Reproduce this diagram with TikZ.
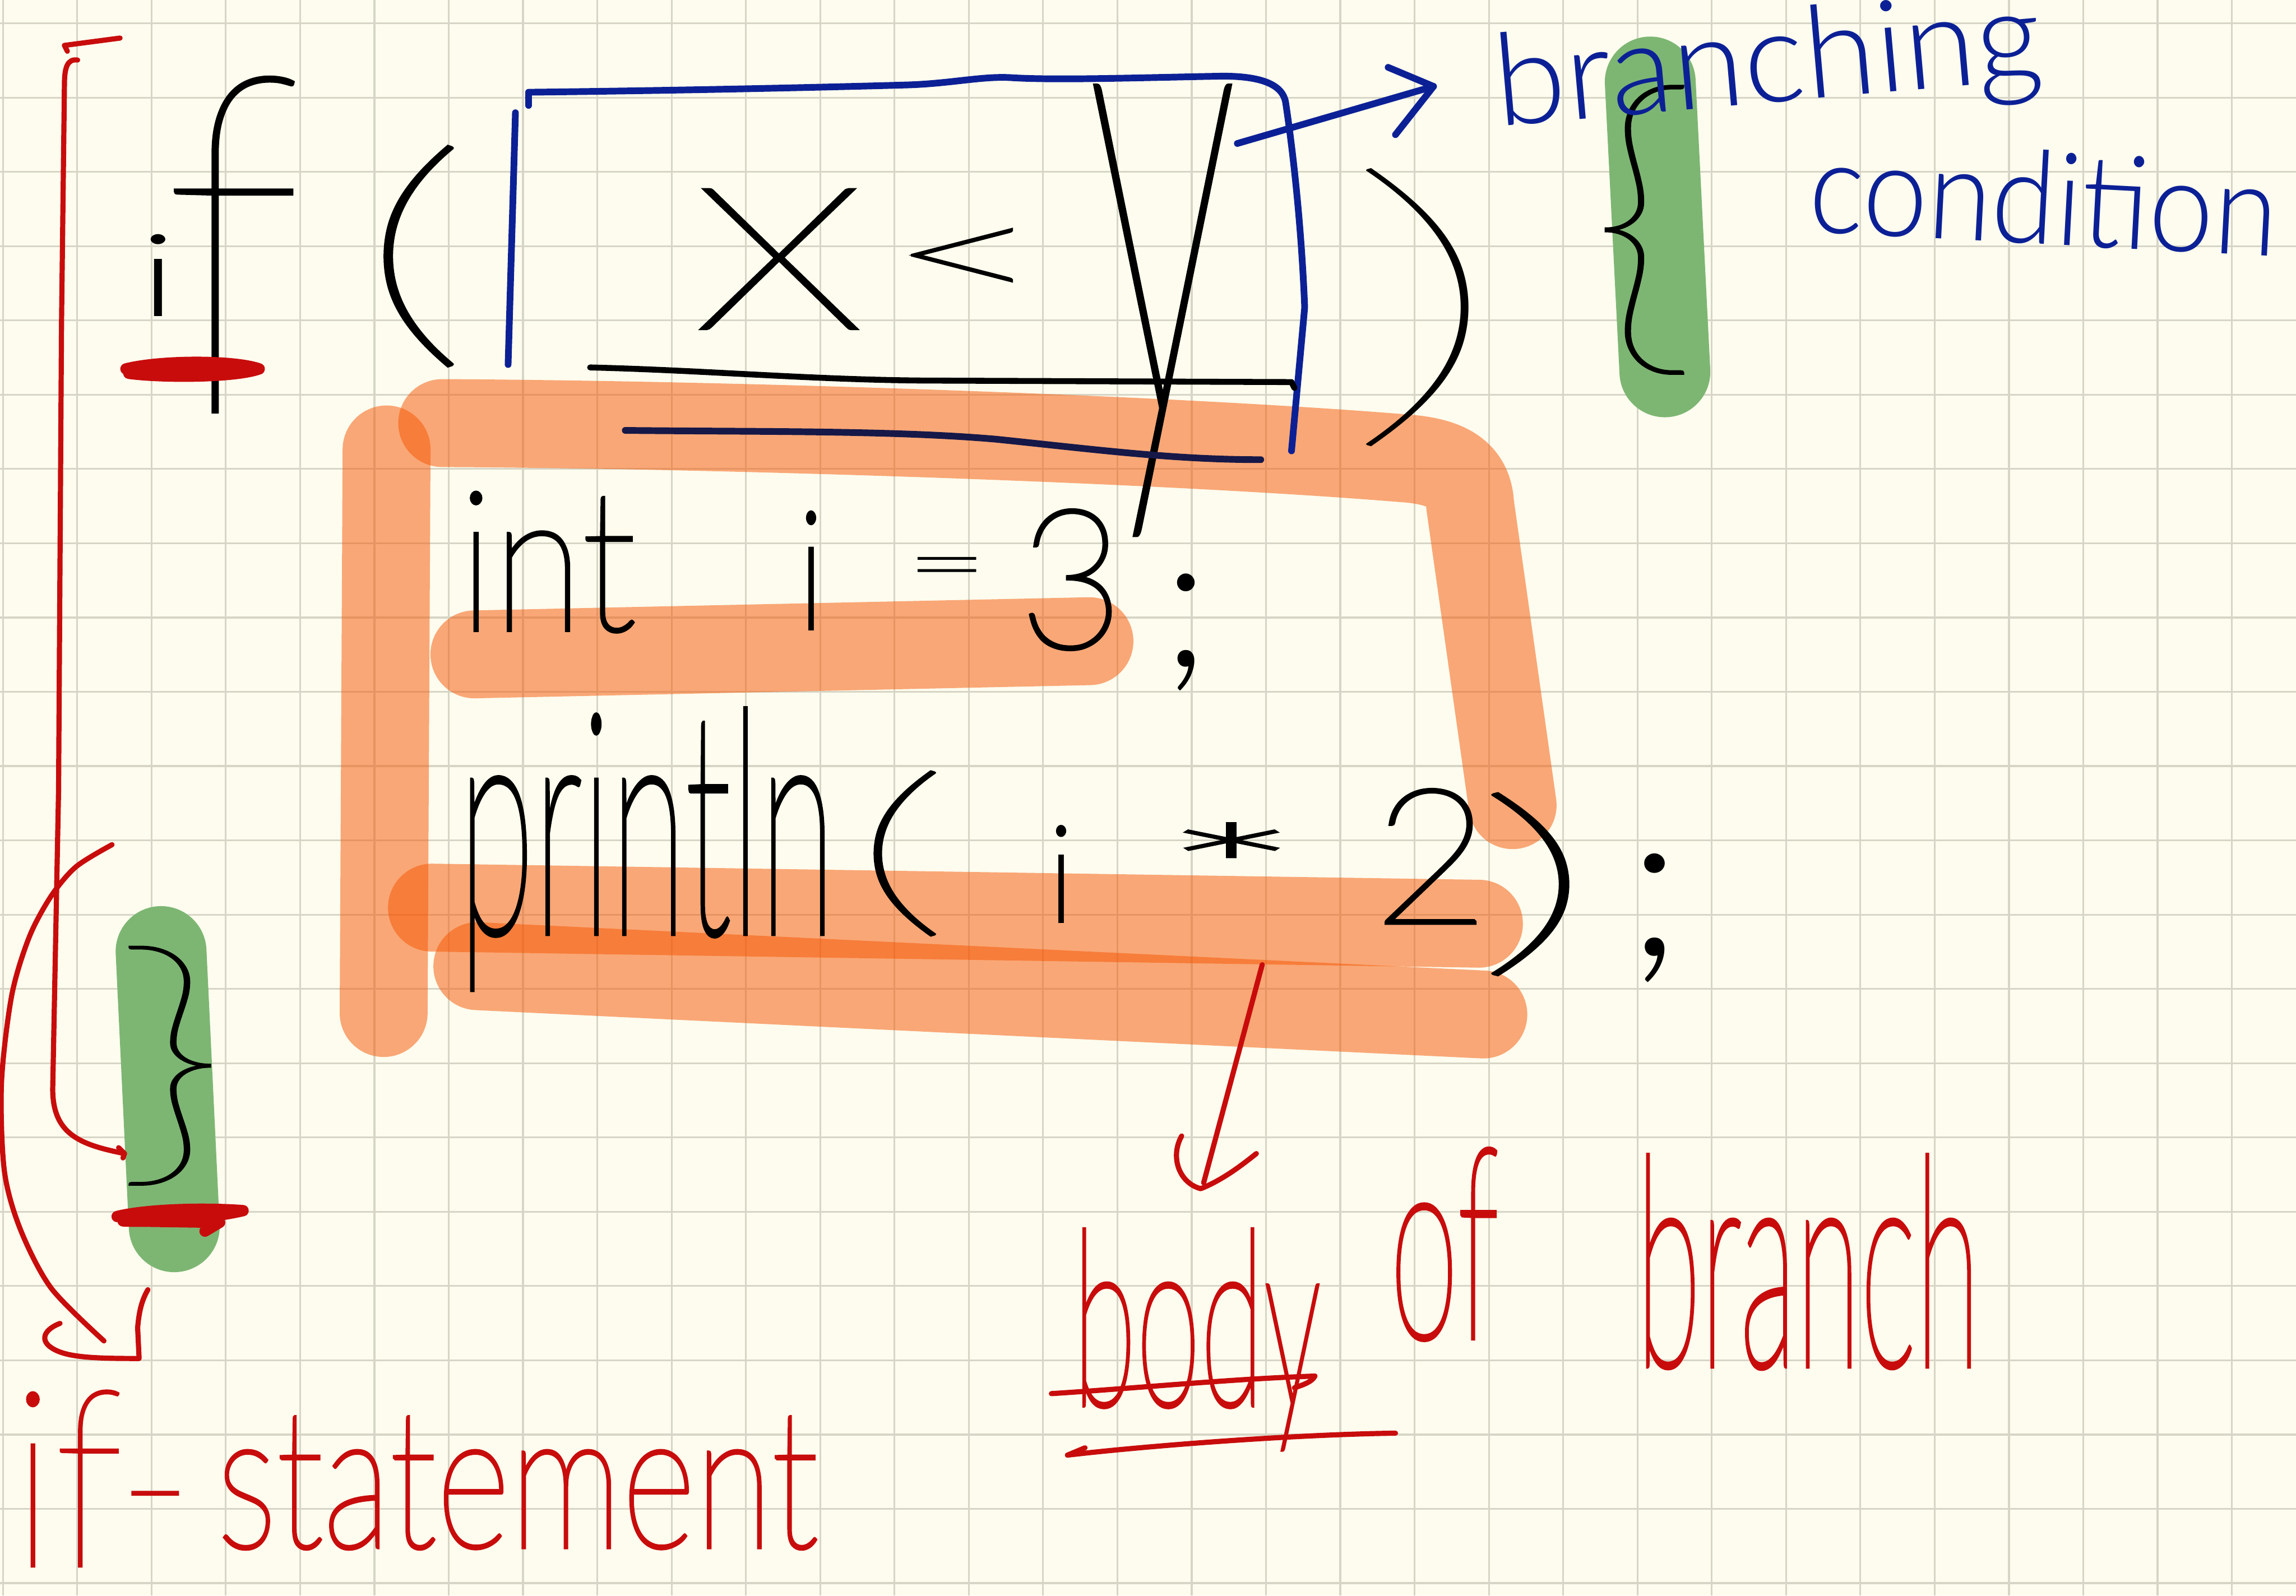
\documentclass[tikz,border=0pt]{standalone}
\usepackage{graphicx}
\usepackage{fontspec}
\usetikzlibrary{arrows.meta}
\definecolor{paper}{RGB}{253,252,238}
\definecolor{gridc}{RGB}{214,213,198}
\definecolor{penblue}{RGB}{12,32,150}
\definecolor{pennavy}{RGB}{22,24,72}
\definecolor{penred}{RGB}{200,12,12}
\definecolor{hlorange}{RGB}{247,84,0}
\definecolor{hlgreen}{RGB}{125,182,115}
\newcommand\fallbackfont{\fontfamily{lmtt}\fontseries{l}\selectfont}
\IfFontExistsTF{Lato Thin}{%
  \newfontfamily\fthin{Lato Thin}
  \newfontfamily\fbH{Lato Thin}[FakeBold=0.5]
  \newfontfamily\fbA{Lato Thin}[FakeBold=1]
  \newfontfamily\fbB{Lato Thin}[FakeBold=2]
}{%
  \let\fthin\fallbackfont \let\fbH\fallbackfont \let\fbA\fallbackfont
  \let\fbB\fallbackfont
}
\IfFontExistsTF{Lato Light}{\newfontfamily\flight{Lato Light}}{\let\flight\fallbackfont}
% text trimmed to its ink: first char, text, last char
\newcommand\inkw[3]{\kern-\XeTeXglyphbounds1 \XeTeXcharglyph`#1\relax #2\kern-\XeTeXglyphbounds3 \XeTeXcharglyph`#3\relax}
\newcommand\hw[5]{\resizebox*{#1\dimexpr 0.01cm\relax}{#2\dimexpr 0.01cm\relax}{\inkw{#3}{#4}{#5}}}
\tikzset{
  txt/.style={inner sep=0pt, outer sep=0pt},
  pen/.style={line width=1.15pt, line cap=round, line join=round},
  blk/.style={pen, draw=black},
  blu/.style={pen, draw=penblue, line width=1.3pt},
  nav/.style={pen, draw=pennavy, line width=1.3pt},
  rd/.style={pen, draw=penred, line width=1.0pt},
  rdmark/.style={pen, draw=penred, line width=2.2pt},
  hlo/.style={draw=hlorange, draw opacity=0.5, line width=0.6cm, line cap=round, line join=round},
  hlg/.style={draw=hlgreen, line width=0.62cm, line cap=round},
  gridline/.style={draw=gridc, line width=0.35pt}
}
\begin{document}
\begin{tikzpicture}[x=0.01cm,y=-0.01cm]
\useasboundingbox (0,0) rectangle (1568,1090);
\fill[paper] (0,0) rectangle (1568,1090);
% grid
\foreach \k in {0,...,30} {\draw[gridline] ({2+50.74*\k},0) -- ({2+50.74*\k},1090);}
\foreach \k in {0,...,21} {\draw[gridline] (0,{15.9+50.74*\k}) -- (1568,{15.9+50.74*\k});}

% orange highlights
\draw[hlo] (302,289) .. controls (500,290) and (800,300) .. (958,313)
           .. controls (990,315) and (1003,325) .. (1004,345) -- (1033,550);
\draw[hlo] (264,307) -- (262,692);
\draw[hlo] (324,447) -- (744,438);
\draw[hlo] (295,620) -- (1010,631);
\draw[hlo] (326,660) -- (1013,693);
% green highlights
\draw[hlg] (1127,56) -- (1137,254);
\draw[hlg] (110,650) -- (119,838);

% code text (sizes: ink width, ink height in picture units)
\node[txt, font=\flight] (ki) at (108,188) {\hw{10}{56}{i}{i}{i}};
\node[txt, font=\fbH] (kf) at (160,167) {\hw{81}{229}{f}{f}{f}};
\node[txt, font=\fbA] (lpar) at (286,175) {\hw{45}{150}{(}{(}{(}};
\node[txt, font=\fbA] (vx) at (532,177) {\hw{105}{95}{x}{x}{x}};
\node[txt, font=\fbB] (lt) at (657,181) {\hw{66}{48}{<}{<}{<}};
\node[txt, font=\fbA] (vy) at (794,212) {\hw{92}{305}{y}{y}{y}};
\node[txt, font=\fthin] (rpar) at (968,210) {\hw{70}{190}{)}{)}{)}};
\node[txt, font=\fbH] (lbrace) at (1123,157) {\hw{53}{197}{\{}{\{}{\{}};
\node[txt, font=\fbB] (kint) at (377,384) {\hw{110}{95}{i}{int}{t}};
\node[txt, font=\flight] (vi) at (554,390) {\hw{7}{82}{i}{i}{i}};
\node[txt, font=\flight] (eq) at (647,392) {\hw{40}{23}{=}{=}{=}};
\node[txt, font=\fbB] (three) at (731,396) {\hw{54}{95}{3}{3}{3}};
\node[txt, font=\flight] (semi1) at (810,432) {\hw{12}{80}{;}{;}{;}};
\node[txt, font=\fbB] (pln) at (442,580) {\hw{240}{191}{p}{println}{n}};
\node[txt, font=\fbA] (lpar2) at (618,583) {\hw{40}{112}{(}{(}{(}};
\node[txt, font=\flight] (vi2) at (725,597) {\hw{7}{67}{i}{i}{i}};
\node[txt, font=\fbB] (times) at (841,593) {\hw{60}{61}{*}{*}{*}};
\node[txt, font=\fbB] (two) at (977,585) {\hw{60}{91}{2}{2}{2}};
\node[txt, font=\fbA] (rpar2) at (1045,604) {\hw{50}{124}{)}{)}{)}};
\node[txt, font=\flight] (semi2) at (1130,627) {\hw{14}{88}{;}{;}{;}};
\node[txt, font=\fbH] (rbrace) at (116,728) {\hw{55}{163}{\}}{\}}{\}}};

% blue condition box and underlines
\draw[blu] (352,77) -- (347,249);
\draw[blu] (361,72) -- (361,63) .. controls (450,62) and (550,60) .. (620,58)
           .. controls (650,57) and (670,52) .. (690,53)
           .. controls (720,55) and (780,53) .. (835,52)
           .. controls (862,52) and (876,58) .. (878,70)
           .. controls (884,110) and (889,160) .. (891,210) -- (882,308);
\draw[blk] (403,251) .. controls (485,253) and (560,260) .. (643,260) -- (882,261) -- (884,265);
\draw[nav] (427,294) .. controls (520,295) and (611,294) .. (680,300) .. controls (748,307) and (800,314) .. (861,314);

% blue labels and arrow
\node[txt, font=\flight, text=penblue, rotate=5] (lbranching) at (1210,46) {\hw{365}{80}{b}{branching}{g}};
\node[txt, font=\flight, text=penblue, rotate=-3] (lcondition) at (1395,135) {\hw{310}{65}{c}{condition}{n}};
\coordinate (condarrow) at (845,98);
\coordinate (condtip) at (979,59);
\draw[blu] (condarrow) -- (condtip);
\draw[blu] (948,46) -- (condtip) -- (953,92);

% red marks
\draw[rdmark] (86,252) .. controls (110,246) and (160,246) .. (177,252)
              .. controls (160,258) and (110,258) .. (88,255) -- (150,251);
\draw[rdmark] (80,831) .. controls (100,826) and (140,825) .. (166,827)
              .. controls (140,833) and (100,835) .. (84,834) -- (150,835) -- (140,841);

% red if-statement bracket
\coordinate (brtop) at (53,41);
\coordinate (brend) at (85,788);
\draw[rd] (46,35) -- (44,31) -- (82,26);
\draw[rd] (brtop) .. controls (46,40) and (44,46) .. (44,58) -- (42,222) -- (40,540) -- (36,744)
          .. controls (36,775) and (55,782) .. (brend);
\draw[rd] (81,784) -- (brend) -- (84,791);
\coordinate (cstart) at (76.5,577);
\coordinate (cend) at (71,916);
\draw[rd] plot[smooth] coordinates {(cstart) (52,592) (35,612) (20,640) (8,680) (1,740) (3,800) (14,840) (35,880) (cend)};
\draw[rd] (41,904) .. controls (33,907) and (27,913) .. (33,919) .. controls (42,927) and (60,928) .. (95,928)
          -- (94,907) .. controls (95,895) and (97,888) .. (101,881);

% red body-of-branch arrow
\coordinate (bstart) at (862,659);
\coordinate (bend) at (822,808);
\draw[rd] (bstart) -- (bend);
\draw[rd] (807,776) .. controls (799,790) and (805,808) .. (820,812) .. controls (835,806) and (848,796) .. (858,788);

% red labels
\node[txt, font=\fbB, text=penred] (lbody) at (820,915) {\hw{160}{150}{b}{body}{y}};
\node[txt, font=\fbB, text=penred] (lof) at (988,850) {\hw{67}{130}{o}{of}{f}};
\node[txt, font=\fbB, text=penred] (lbranch) at (1235,862) {\hw{220}{145}{b}{branch}{h}};
\node[txt, font=\fbA, text=penred] (lif) at (70,1010) {\hw{103}{120}{i}{if-}{-}};
\node[txt, font=\fbB, text=penred] (lstmt) at (355,1013) {\hw{403}{90}{s}{statement}{t}};
\draw[rd] (718,952) .. controls (780,948) and (840,942) .. (898,940) .. controls (896,944) and (890,946) .. (884,948);
\draw[rd] (729,994) .. controls (780,988) and (880,980) .. (953,979);
\draw[rd] (729,994) -- (741,989);
\end{tikzpicture}
\end{document}
